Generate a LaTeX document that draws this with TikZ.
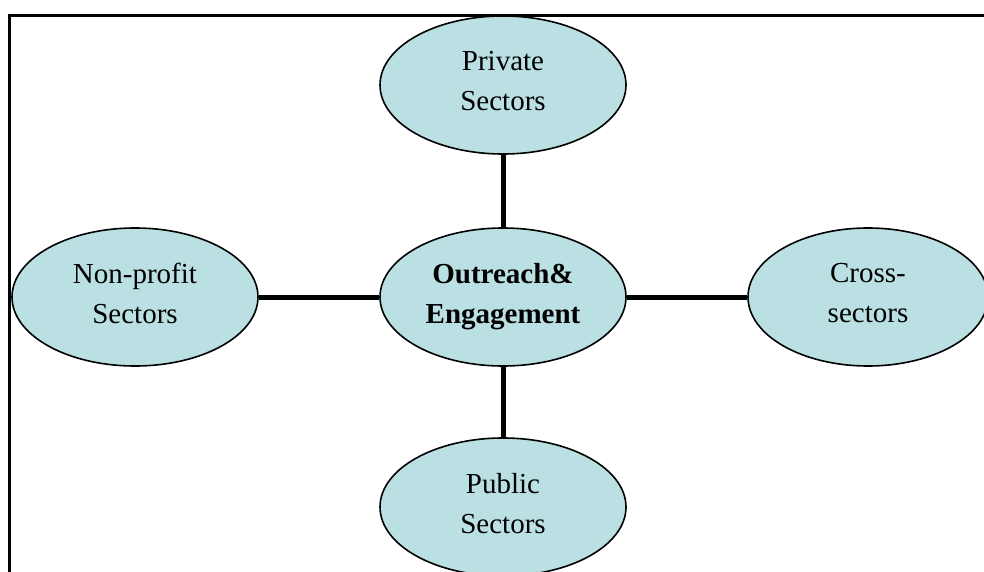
\documentclass[tikz,border=0pt]{standalone}
\usepackage{fontspec}
\setmainfont{Liberation Serif}
\usetikzlibrary{shapes.geometric}
\definecolor{lblue}{RGB}{186,224,227}
\tikzset{
  sector/.style={ellipse, draw=black, line width=1.6pt, fill=lblue,
    minimum width=246pt, minimum height=138pt, inner sep=0pt, align=center,
    font=\fontsize{29}{40}\selectfont, text depth=8pt},
  hub/.style={sector, text depth=7pt},
  link/.style={line width=5pt, draw=black}
}
\begin{document}
\begin{tikzpicture}[x=1pt,y=-1pt]
\useasboundingbox (0,0) rectangle (984,572);
\clip (0,0) rectangle (984,572);
\draw[line width=3pt] (9.5,15.5) rectangle (1100,700);
\node[hub] (center) at (503,297) {\textbf{Outreach\&}\\\textbf{Engagement}};
\node[sector] (priv) at (503,85) {Private\\Sectors};
\node[sector] (pub) at (503,507) {Public\\Sectors};
\node[sector] (nonp) at (135,297) {Non-profit\\Sectors};
\node[sector, minimum width=240pt] (cross) at (868,297) {Cross-\\sectors};
\draw[link] (priv) -- (center);
\draw[link] (center) -- (pub);
\draw[link] (nonp) -- (center);
\draw[link] (center) -- (cross);
\end{tikzpicture}
\end{document}
